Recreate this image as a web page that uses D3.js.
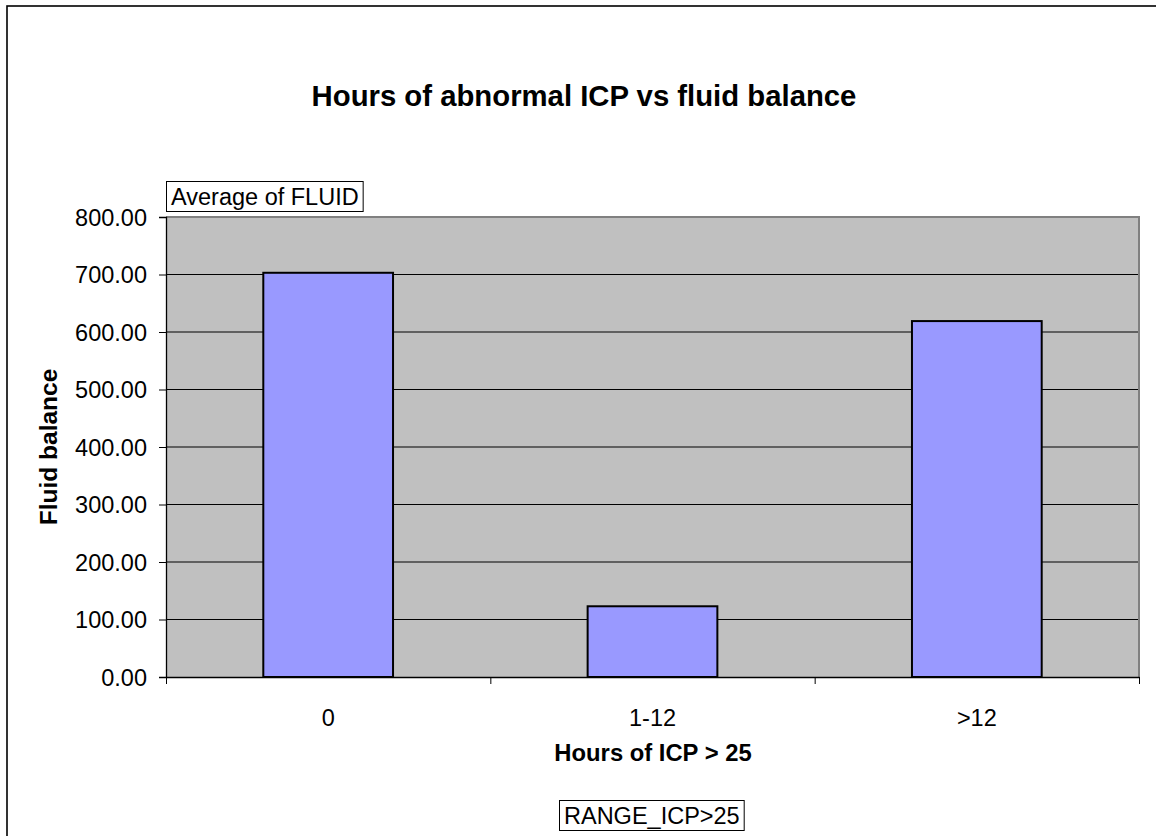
<!DOCTYPE html>
<html>
<head>
<meta charset="utf-8">
<script src="https://cdn.jsdelivr.net/npm/d3@7"></script>
<style>
  body { margin: 0; background: #fff; }
  text { font-family: "Liberation Sans", Arial, sans-serif; fill: #000; }
</style>
</head>
<body>
<div id="chart"></div>
<script>
// data
const categories = ["0", "1-12", ">12"];
const fluidValues = [703, 123, 619];
const yTicks = [0, 100, 200, 300, 400, 500, 600, 700, 800];

const margin = {top: 217, right: 17, bottom: 159, left: 166},
    width = 1156 - margin.left - margin.right,
    height = 836 - margin.top - margin.bottom;

const root = d3.select("#chart")
  .append("svg")
    .attr("width", 1156)
    .attr("height", 836);

// outer chart border (runs off right and bottom edge)
root.append("rect")
  .attr("x", 7)
  .attr("y", 6)
  .attr("width", 1170)
  .attr("height", 850)
  .attr("fill", "none")
  .attr("stroke", "#000")
  .attr("stroke-width", 1.6);

const svg = root.append("g")
  .attr("transform", `translate(${margin.left},${margin.top})`);

const x = d3.scaleBand()
  .domain(categories)
  .range([0, width])
  .padding(0);

const y = d3.scaleLinear()
  .domain([0, 800])
  .range([height, 0]);

// plot area
svg.append("rect")
  .attr("width", width)
  .attr("height", height)
  .attr("fill", "#C0C0C0");

// gridlines
svg.selectAll(".grid")
  .data(yTicks.filter(d => d > 0 && d < 800))
  .join("line")
    .attr("x1", 0)
    .attr("x2", width)
    .attr("y1", d => y(d))
    .attr("y2", d => y(d))
    .attr("stroke", "#000")
    .attr("stroke-width", 1);

// plot border top/right
svg.append("path")
  .attr("d", `M0,0H${width}V${height}`)
  .attr("fill", "none")
  .attr("stroke", "#808080")
  .attr("stroke-width", 2);

// bars
const barW = x.bandwidth() * 0.4;
svg.selectAll(".bar")
  .data(fluidValues)
  .join("rect")
    .attr("class", "bar")
    .attr("x", (d, i) => x(categories[i]) + (x.bandwidth() - barW) / 2)
    .attr("width", barW)
    .attr("y", d => y(d))
    .attr("height", d => height - y(d))
    .attr("fill", "#9999FF")
    .attr("stroke", "#000")
    .attr("stroke-width", 2);

// y axis
const yAxis = svg.append("g")
  .call(d3.axisLeft(y).tickValues(yTicks).tickFormat(d3.format(".2f")).tickSize(7).tickPadding(12));
yAxis.select(".domain").attr("stroke", "#000").attr("stroke-width", 1.3);
yAxis.selectAll("text")
  .style("font-size", "23.5px")
  .attr("dy", "0.36em");

// x axis: labels centred, ticks on category boundaries
const xAxis = svg.append("g")
  .attr("transform", `translate(0,${height})`)
  .call(d3.axisBottom(x).tickSize(0).tickPadding(32));
xAxis.select(".domain").attr("stroke", "#000").attr("stroke-width", 1.3);
xAxis.selectAll("text").style("font-size", "23.5px");

const xEdge = d3.scaleLinear().domain([0, categories.length]).range([0, width]);
svg.append("g")
  .attr("transform", `translate(0,${height})`)
  .call(d3.axisBottom(xEdge).ticks(categories.length).tickSize(7).tickFormat(""))
  .select(".domain").remove();

// title
root.append("text")
  .attr("x", 584)
  .attr("y", 106)
  .attr("text-anchor", "middle")
  .style("font-size", "29.3px")
  .style("font-weight", "bold")
  .text("Hours of abnormal ICP vs fluid balance");

// axis titles
root.append("text")
  .attr("transform", "translate(57,447) rotate(-90)")
  .attr("text-anchor", "middle")
  .style("font-size", "24.5px")
  .style("font-weight", "bold")
  .text("Fluid balance");

root.append("text")
  .attr("x", 653)
  .attr("y", 761)
  .attr("text-anchor", "middle")
  .style("font-size", "23.8px")
  .style("font-weight", "bold")
  .text("Hours of ICP > 25");

// field buttons
function fieldBox(tx, ty, label) {
  const g = root.append("g");
  const t = g.append("text")
    .attr("x", tx)
    .attr("y", ty)
    .style("font-size", "23.5px")
    .text(label);
  const b = t.node().getBBox();
  g.insert("rect", "text")
    .attr("x", b.x - 4.5)
    .attr("y", ty - 23.5)
    .attr("width", b.width + 9)
    .attr("height", 30)
    .attr("fill", "#fff")
    .attr("stroke", "#000")
    .attr("stroke-width", 1);
}
fieldBox(171, 205, "Average of FLUID");
fieldBox(564, 824, "RANGE_ICP>25");
</script>
</body>
</html>
